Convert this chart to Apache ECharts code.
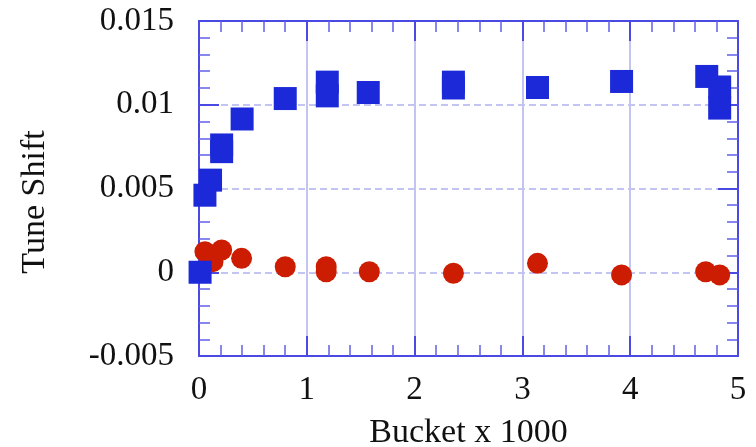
<!DOCTYPE html>
<html><head><meta charset="utf-8">
<script src="https://cdn.jsdelivr.net/npm/echarts@6/dist/echarts.min.js"></script>
<style>html,body{margin:0;padding:0;background:#fff}#c{width:756px;height:447px}</style>
</head><body><div id="c"></div>
<script>
var blueX = [0.01, 0.055, 0.107, 0.21, 0.21, 0.40, 0.80, 1.19, 1.19, 1.57, 2.36, 2.36, 3.14, 3.92, 4.71, 4.83, 4.83];
var blueY = [0, 0.0046, 0.0055, 0.0076, 0.0072, 0.00915, 0.01037, 0.01135, 0.01053, 0.01073, 0.01135, 0.0110, 0.01103, 0.01139, 0.01169, 0.01106, 0.0098];
var redX = [0.055, 0.13, 0.21, 0.395, 0.80, 1.18, 1.18, 1.58, 2.36, 3.14, 3.92, 4.70, 4.83];
var redY = [0.00123, 0.00063, 0.00133, 0.00083, 0.00033, 0.00033, 0.00003, 0.00003, -0.00006, 0.00053, -0.00016, 0.00003, -0.00016];
var xTickLabels = ['0', '1', '2', '3', '4', '5'];
var yTickLabels = ['-0.005', '0', '0.005', '0.01', '0.015'];
var xTitle = 'Bucket x 1000';
var yTitle = 'Tune Shift';

var FONT = 'Liberation Serif';
var AX = '#4a4ae2';
function pts(xs, ys) { return xs.map(function (x, i) { return [x, ys[i]]; }); }
function common(extra) {
  var o = {
    axisLine: { show: true, onZero: false, lineStyle: { color: AX, width: 2 } },
    axisTick: { show: true, inside: true, length: 20, lineStyle: { color: AX, width: 2 } },
    minorTick: { show: true, splitNumber: 5, length: 11, lineStyle: { color: '#6060e8', width: 1.5 } }
  };
  for (var k in extra) o[k] = extra[k];
  return o;
}
var chart = echarts.init(document.getElementById('c'));
chart.setOption({
  animation: false,
  grid: { left: 199, right: 18, top: 21, bottom: 91, containLabel: false, outerBoundsMode: 'none' },
  xAxis: [
    common({
      type: 'value', min: 0, max: 5, interval: 1, position: 'bottom',
      axisLabel: { fontFamily: FONT, fontSize: 33, color: '#111', margin: 18,
        formatter: function (v) { return xTickLabels[Math.round(v)]; } },
      splitLine: { show: true, lineStyle: { color: '#c4c4f3', width: 2, type: 'solid' } },
      name: xTitle, nameLocation: 'middle', nameGap: 60,
      nameTextStyle: { fontFamily: FONT, fontSize: 34, color: '#111' }
    }),
    common({ type: 'value', min: 0, max: 5, interval: 1, position: 'top',
      axisLabel: { show: false }, splitLine: { show: false } })
  ],
  yAxis: [
    common({
      type: 'value', min: -0.005, max: 0.015, interval: 0.005, position: 'left',
      axisLabel: { fontFamily: FONT, fontSize: 33, color: '#111', margin: 25,
        formatter: function (v) { return yTickLabels[Math.round((v + 0.005) / 0.005)]; } },
      splitLine: { show: true, lineStyle: { color: '#c4c4f3', width: 2, type: [7, 4] } },
      name: yTitle, nameLocation: 'middle', nameGap: 147,
      nameTextStyle: { fontFamily: FONT, fontSize: 34, color: '#111', padding: [0, 27, 0, 0] }
    }),
    common({ type: 'value', min: -0.005, max: 0.015, interval: 0.005, position: 'right',
      axisLabel: { show: false }, splitLine: { show: false } })
  ],
  series: [
    { type: 'scatter', data: pts(redX, redY), symbol: 'circle', symbolSize: 21, clip: false,
      itemStyle: { color: '#cc1c02', opacity: 1 } },
    { type: 'scatter', data: pts(blueX, blueY), symbol: 'rect', symbolSize: 23, clip: false,
      itemStyle: { color: '#1b29d9', opacity: 1 } }
  ]
});
</script></body></html>
